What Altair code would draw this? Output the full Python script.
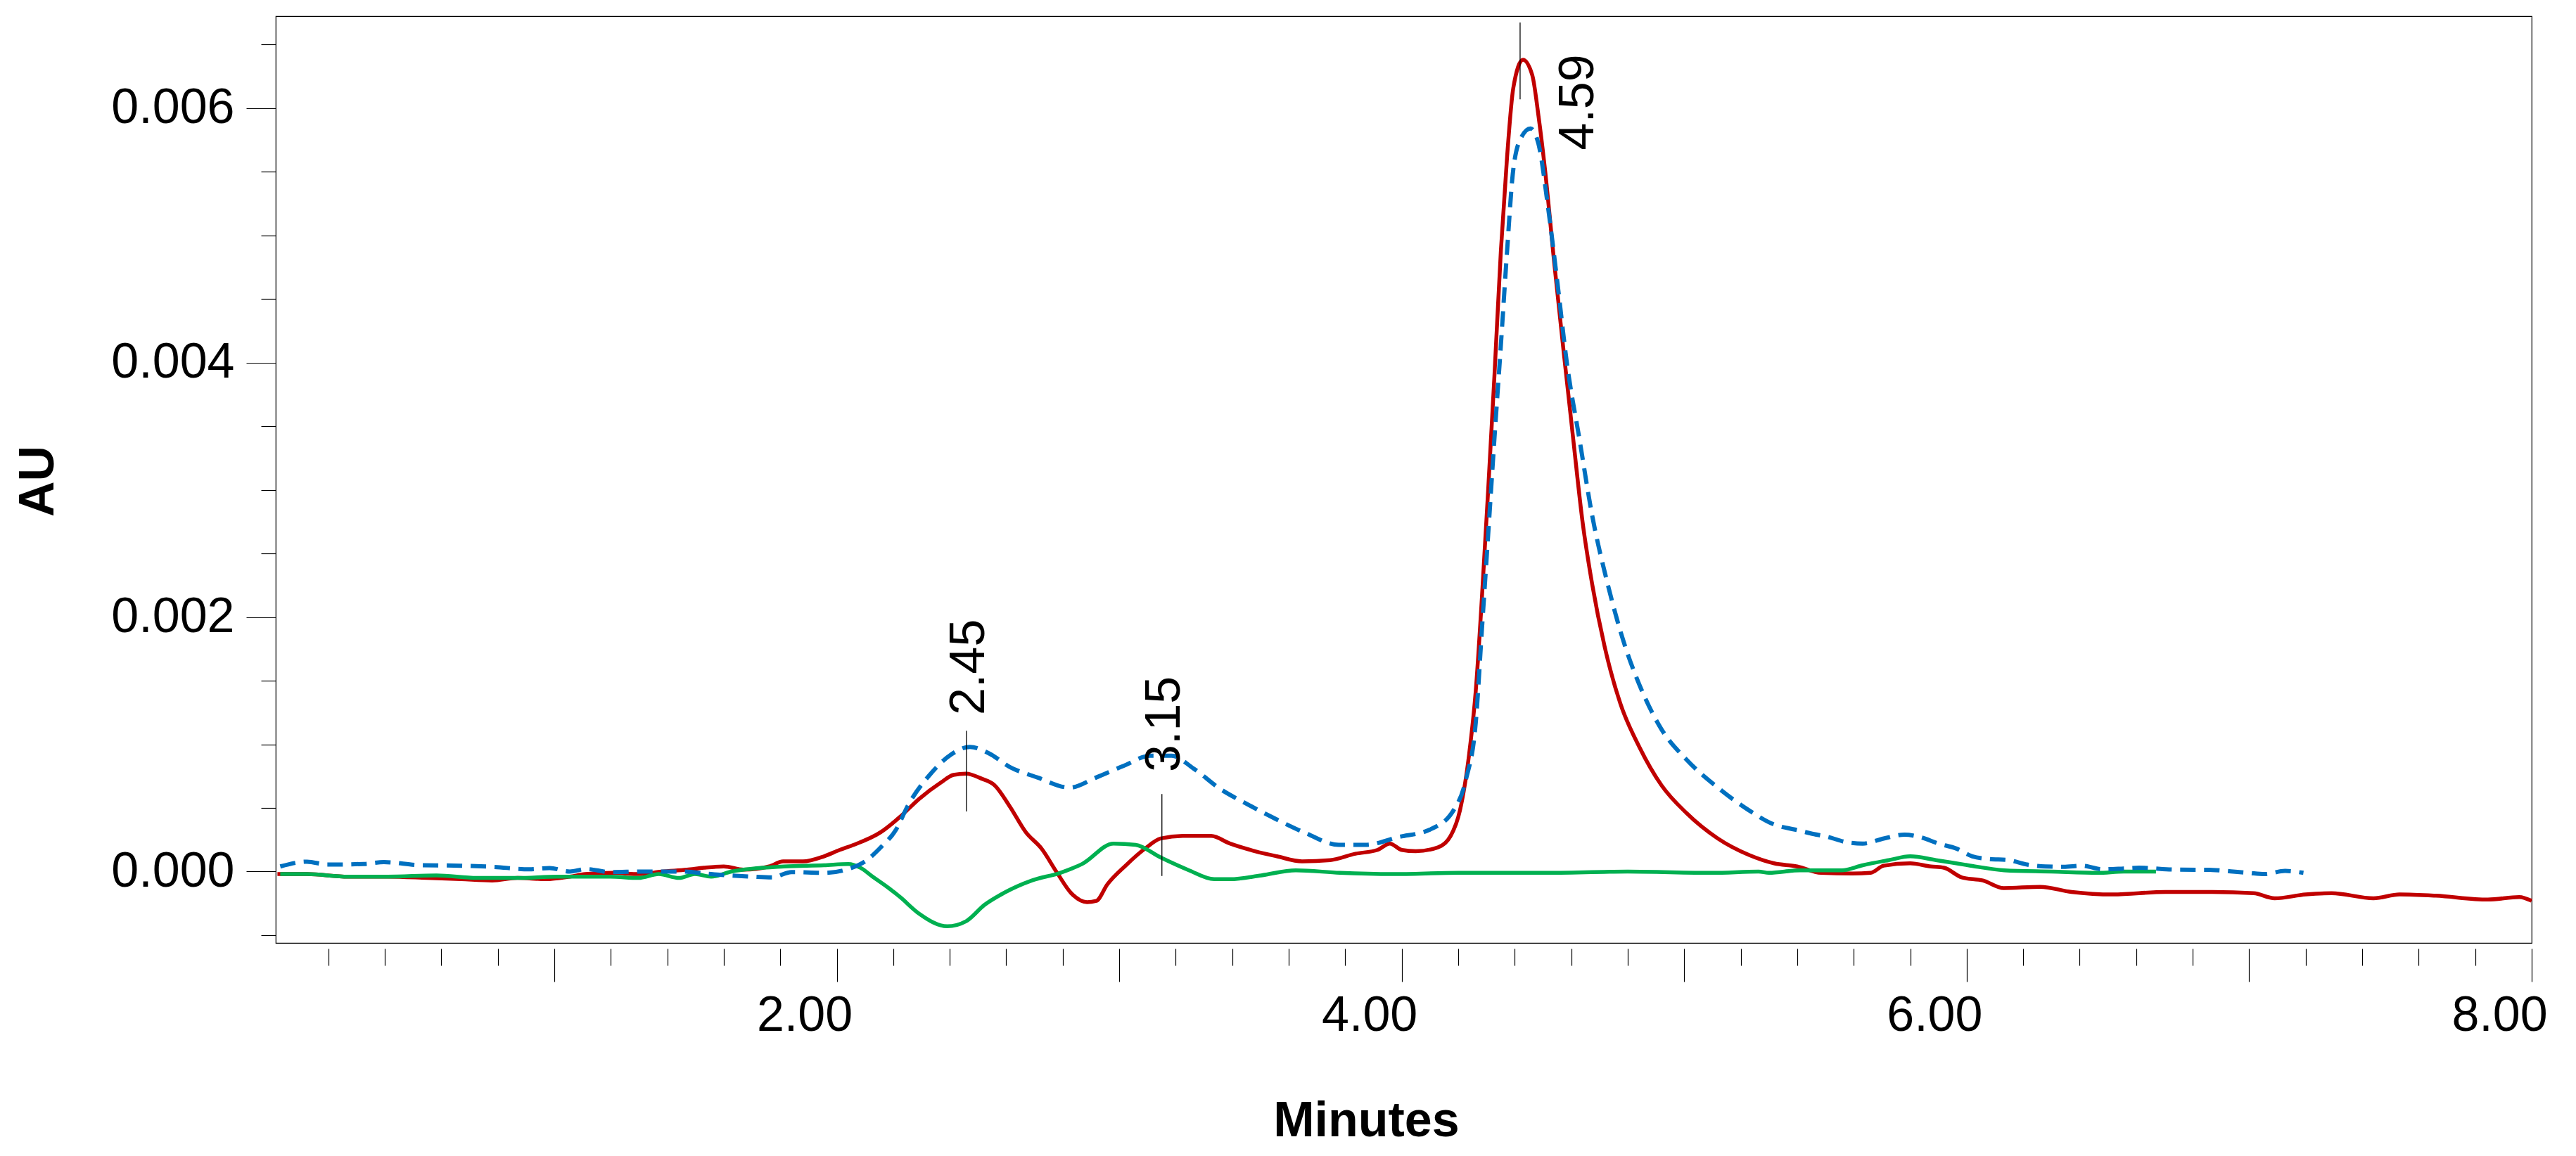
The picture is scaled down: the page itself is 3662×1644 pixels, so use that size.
import altair as alt
import pandas as pd

FONT = "Liberation Sans"

# ---------------- data ----------------
red_x = [0.02, 0.125, 0.27, 0.41, 0.55, 0.67, 0.78, 0.87, 0.97, 1.055, 1.11, 1.21, 1.30, 1.38,
         1.47, 1.53, 1.60, 1.67, 1.76, 1.81, 1.88, 1.955, 2.01, 2.06, 2.156, 2.224, 2.291, 2.369,
         2.413, 2.458, 2.513, 2.558, 2.613, 2.669, 2.725, 2.78, 2.83, 2.886, 2.919, 2.958, 3.024,
         3.091, 3.147, 3.225, 3.325, 3.392, 3.481, 3.558, 3.647, 3.747, 3.836, 3.914, 3.958, 4.0,
         4.05, 4.128, 4.173, 4.206, 4.239, 4.262, 4.284, 4.306, 4.328, 4.351, 4.373, 4.395, 4.429,
         4.462, 4.484, 4.507, 4.54, 4.573, 4.607, 4.64, 4.674, 4.718, 4.774, 4.841, 4.919, 5.008,
         5.119, 5.23, 5.318, 5.4, 5.484, 5.595, 5.66, 5.706, 5.8, 5.873, 5.919, 5.983, 6.057, 6.131,
         6.26, 6.371, 6.518, 6.703, 6.869, 7.016, 7.09, 7.2, 7.292, 7.44, 7.532, 7.661, 7.845,
         7.956, 8.0]
red_y = [-0.00002, -0.00002, -0.00004, -0.00004, -0.00005, -0.00006, -0.00007, -0.00005, -0.00006,
         -0.00004, -0.00002, -0.00001, -0.00002, 0.0, 0.000015, 0.00003, 0.00004, 0.000015, 0.00004,
         0.00008, 0.00008, 0.00012, 0.00017, 0.00021, 0.00031, 0.00043, 0.00057, 0.0007, 0.00076,
         0.00077, 0.00073, 0.00068, 0.00051, 0.00031, 0.00018, -0.00001, -0.00017, -0.00024,
         -0.00023, -0.0001, 0.00005, 0.00018, 0.00026, 0.00028, 0.00028, 0.00022, 0.00016, 0.00012,
         0.00008, 0.00009, 0.00014, 0.00017, 0.00022, 0.00017, 0.00016, 0.00019, 0.00028, 0.00048,
         0.00093, 0.00142, 0.00216, 0.0030, 0.00389, 0.00488, 0.00562, 0.00616, 0.00638, 0.00626,
         0.00594, 0.00552, 0.00478, 0.00409, 0.0034, 0.00275, 0.00226, 0.00177, 0.00132, 0.00098,
         0.00068, 0.00046, 0.00026, 0.00013, 0.000065, 0.00004, -0.00001, -0.000015, -0.00001,
         0.000046, 0.000065, 0.00004, 0.00003, -0.000046, -0.00007, -0.00013, -0.00012, -0.00016,
         -0.00018, -0.00016, -0.00016, -0.00017, -0.00021, -0.00018, -0.00017, -0.00021, -0.00018,
         -0.00019, -0.00022, -0.0002, -0.00023]

blue_x = [0.03, 0.125, 0.197, 0.326, 0.397, 0.526, 0.669, 0.783, 0.912, 0.983, 1.055, 1.112, 1.198,
          1.313, 1.455, 1.555, 1.699, 1.77, 1.84, 1.955, 2.04, 2.1, 2.16, 2.21, 2.252, 2.329, 2.405,
          2.471, 2.538, 2.614, 2.71, 2.824, 2.919, 3.015, 3.11, 3.186, 3.263, 3.357, 3.453, 3.548,
          3.662, 3.777, 3.872, 3.986, 4.1, 4.183, 4.228, 4.262, 4.284, 4.306, 4.328, 4.351, 4.373,
          4.395, 4.423, 4.456, 4.484, 4.518, 4.551, 4.585, 4.629, 4.674, 4.729, 4.785, 4.841, 4.919,
          5.008, 5.119, 5.23, 5.318, 5.392, 5.448, 5.512, 5.576, 5.632, 5.706, 5.78, 5.836, 5.9,
          5.964, 6.02, 6.075, 6.149, 6.214, 6.278, 6.343, 6.407, 6.481, 6.555, 6.61, 6.74, 6.869,
          6.943, 6.998, 7.054, 7.127, 7.192]
blue_y = [0.00004, 0.000078, 0.000055, 0.00006, 0.000074, 0.00005, 0.000046, 0.000037, 0.000018,
          0.000028, 0.0, 0.00002, -0.000004, 0.0, 0.0, -0.00002, -0.00004, -0.000046, -0.000004,
          -0.00001, 0.00002, 0.00008, 0.0002, 0.00033, 0.00052, 0.00076, 0.00092, 0.00098, 0.00093,
          0.00082, 0.00074, 0.00066, 0.00074, 0.00083, 0.00091, 0.00091, 0.00081, 0.00065, 0.00053,
          0.00042, 0.0003, 0.00021, 0.00021, 0.00027, 0.00033, 0.00048, 0.00073, 0.00117, 0.00191,
          0.00265, 0.0034, 0.00414, 0.00488, 0.00552, 0.00577, 0.00584, 0.00572, 0.00522, 0.00463,
          0.00399, 0.0034, 0.0028, 0.00226, 0.00181, 0.00147, 0.00112, 0.00088, 0.00066, 0.00048,
          0.00037, 0.00033, 0.0003, 0.00027, 0.00023, 0.00022, 0.00026, 0.00029, 0.00027, 0.00022,
          0.00018, 0.00012, 0.0001, 0.00009, 0.000055, 0.00004, 0.000037, 0.000046, 0.000018,
          0.000024, 0.00003, 0.000015, 0.000013, 0.0, -0.00001, -0.00002, 0.000005, -0.00001]

green_x = [0.03, 0.125, 0.269, 0.411, 0.583, 0.726, 0.869, 1.012, 1.198, 1.298, 1.37, 1.441, 1.498,
           1.555, 1.627, 1.813, 1.955, 2.041, 2.084, 2.127, 2.184, 2.224, 2.291, 2.391, 2.458, 2.524,
           2.59, 2.691, 2.791, 2.869, 2.98, 3.058, 3.147, 3.247, 3.336, 3.392, 3.503, 3.625, 3.781,
           3.968, 4.2, 4.5, 4.8, 5.1, 5.263, 5.3, 5.41, 5.558, 5.632, 5.724, 5.8, 5.891, 6.004, 6.133,
           6.3, 6.464, 6.556, 6.67]
green_y = [-0.00002, -0.00002, -0.00004, -0.00004, -0.00003, -0.00005, -0.00005, -0.00004, -0.00004,
           -0.00005, -0.00002, -0.00005, -0.00002, -0.00004, 0.0, 0.00004, 0.00005, 0.00006, 0.00003,
           -0.00004, -0.00013, -0.0002, -0.00033, -0.00043, -0.00039, -0.00026, -0.00017, -0.00007,
           -0.00001, 0.00006, 0.00022, 0.00021, 0.00011, 0.00001, -0.00006, -0.00006, -0.00003,
           0.00001, -0.00001, -0.00002, -0.00001, -0.00001, 0.0, -0.00001, 0.0, -0.00001, 0.00001,
           0.00001, 0.00005, 0.00009, 0.00012, 0.00009, 0.00005, 0.00001, 0.0, -0.00001, 0.0, 0.0]

# peak markers
peak_x = [2.459, 3.151, 4.419]
peak_y1 = [0.000473, -0.000034, 0.00607]
peak_y2 = [0.001107, 0.000609, 0.006673]
label_text = ["2.45", "3.15", "4.59"]
label_x = [2.459, 3.151, 4.617]
label_y = [0.00123, 0.000782, 0.00567]

# axis tick positions
x_major_ticks = [1, 2, 3, 4, 5, 6, 7, 8]
x_minor_ticks = [0.2, 0.4, 0.6, 0.8, 1.2, 1.4, 1.6, 1.8, 2.2, 2.4, 2.6, 2.8, 3.2, 3.4, 3.6, 3.8,
                 4.2, 4.4, 4.6, 4.8, 5.2, 5.4, 5.6, 5.8, 6.2, 6.4, 6.6, 6.8, 7.2, 7.4, 7.6, 7.8]
y_major_ticks = [0.0, 0.002, 0.004, 0.006]
y_minor_ticks = [-0.0005, 0.0005, 0.001, 0.0015, 0.0025, 0.003, 0.0035, 0.0045, 0.005, 0.0055,
                 0.0065]

RED, BLUE, GREEN = "#C00000", "#0070C0", "#00B050"

# ---------------- chart ----------------
red_df = pd.DataFrame({"x": red_x, "y": red_y})
blue_df = pd.DataFrame({"x": blue_x, "y": blue_y})
green_df = pd.DataFrame({"x": green_x, "y": green_y})
peaks_df = pd.DataFrame({"x": peak_x, "y": peak_y1, "y2": peak_y2})
labels_df = pd.DataFrame({"x": label_x, "y": label_y, "t": label_text})

xscale = alt.Scale(domain=[0.014, 8.0], nice=False, zero=False)
yscale = alt.Scale(domain=[-0.000561, 0.006723], nice=False, zero=False)

x_major_axis = alt.Axis(
    orient="bottom", values=x_major_ticks, domain=False, grid=False, offset=8,
    tickColor="black", tickWidth=1.2, tickSize=47,
    labelExpr="datum.value % 2 == 0 ? format(datum.value, '.2f') : ''",
    labelFont=FONT, labelFontSize=70, labelColor="black", labelPadding=14, labelOffset=-46,
    labelFlush=False, labelOverlap=False,
    title="Minutes", titleFont=FONT, titleFontSize=70, titleFontWeight="bold", titleColor="black",
    titleX=1550, titleY=266, titleAlign="center", titleBaseline="alphabetic",
)
x_minor_axis = alt.Axis(
    orient="bottom", values=x_minor_ticks, domain=False, grid=False, offset=8,
    tickColor="black", tickWidth=1.2, tickSize=24, labels=False, title=None,
)
y_major_axis = alt.Axis(
    orient="left", values=y_major_ticks, domain=False, grid=False,
    tickColor="black", tickWidth=1.2, tickSize=42,
    format=".3f",
    labelFont=FONT, labelFontSize=70, labelColor="black", labelPadding=17,
    labelFlush=False, labelOverlap=False,
    title="AU", titleFont=FONT, titleFontSize=70, titleFontWeight="bold", titleColor="black",
    titleAngle=270, titleX=-338, titleY=661, titleAlign="center", titleBaseline="middle",
)
y_minor_axis = alt.Axis(
    orient="left", values=y_minor_ticks, domain=False, grid=False,
    tickColor="black", tickWidth=1.2, tickSize=21, labels=False, title=None,
)


def trace(df, color, width, dash=None, xaxis=None, yaxis=None):
    kw = dict(color=color, strokeWidth=width, interpolate="monotone", strokeCap="butt")
    if dash:
        kw["strokeDash"] = dash
    return alt.Chart(df).mark_line(**kw).encode(
        x=alt.X("x:Q", scale=xscale, axis=xaxis),
        y=alt.Y("y:Q", scale=yscale, axis=yaxis),
    )


red = trace(red_df, RED, 5.5, xaxis=x_major_axis, yaxis=y_major_axis)
green = trace(green_df, GREEN, 5.5, xaxis=x_minor_axis, yaxis=y_minor_axis)
blue = trace(blue_df, BLUE, 6, dash=[22, 12])

rules = alt.Chart(peaks_df).mark_rule(color="black", strokeWidth=1.3).encode(
    x=alt.X("x:Q", scale=xscale, axis=None),
    y=alt.Y("y:Q", scale=yscale, axis=None),
    y2="y2:Q",
)
texts = alt.Chart(labels_df).mark_text(
    angle=270, align="left", baseline="middle", dy=4, font=FONT, fontSize=70, color="black"
).encode(
    x=alt.X("x:Q", scale=xscale, axis=None),
    y=alt.Y("y:Q", scale=yscale, axis=None),
    text="t:N",
)

chart = alt.layer(red, green, blue, rules, texts).resolve_scale(
    x="shared", y="shared"
).resolve_axis(
    x="independent", y="independent"
).properties(
    width=3207,
    height=1318,
    padding={"left": 384, "top": 15, "right": 45, "bottom": 293},
    autosize=alt.AutoSizeParams(type="none"),
    background="white",
).configure_view(stroke="black", strokeWidth=1.2)

chart.save("out.html", embed_options={"renderer": "svg", "actions": False})
